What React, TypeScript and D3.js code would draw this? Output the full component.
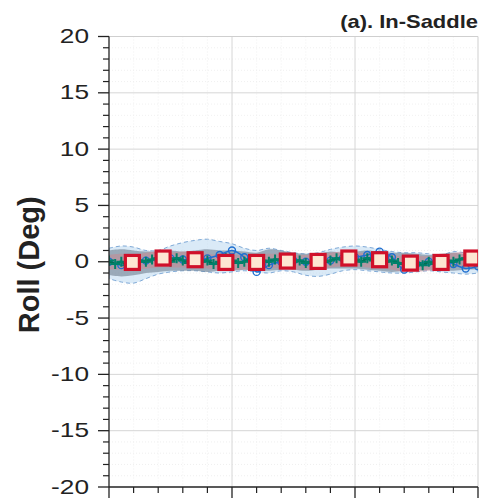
import React from "react";
import * as d3 from "d3";

const W = 484, H = 502;
const M = { left: 109, right: 478, top: 36.5, bottom: 487 };

const yTicks = [-20, -15, -10, -5, 0, 5, 10, 15, 20];
const xMajor = [0, 50, 100, 150];

// band sample positions (x every 5)
const bandX = [0,5,10,15,20,25,30,35,40,45,50,55,60,65,70,75,80,85,90,95,100,105,110,115,120,125,130,135,140,145,150];
const grayUp = [1.0,1.1,1.0,0.9,0.9,1.0,0.9,1.0,1.1,1.0,1.0,0.9,0.8,1.1,1.0,0.8,0.7,0.7,0.9,0.8,0.9,1.0,0.9,0.8,0.8,0.7,0.6,0.7,0.8,0.7,0.8];
const grayLo = [-1.2,-1.3,-1.2,-1.0,-0.9,-0.8,-0.8,-0.8,-0.9,-0.8,-0.8,-0.7,-0.8,-0.8,-0.7,-0.7,-0.8,-0.7,-0.6,-0.6,-0.6,-0.7,-0.8,-0.9,-0.8,-0.8,-0.7,-0.8,-0.8,-0.7,-0.7];
const blueUp = [1.2,1.4,1.3,1.0,1.0,1.4,1.7,1.9,2.0,1.8,1.6,1.2,1.0,1.2,1.0,0.8,0.7,0.8,1.1,1.3,1.4,1.3,1.1,0.9,0.8,0.8,0.7,0.6,0.9,0.8,0.9];
const blueLo = [-1.5,-1.8,-1.9,-1.5,-1.1,-0.9,-0.8,-0.8,-0.9,-1.0,-0.9,-0.8,-0.9,-1.0,-0.8,-0.9,-1.2,-1.3,-1.1,-0.8,-0.7,-0.8,-0.9,-1.0,-1.0,-0.9,-0.8,-0.9,-1.0,-1.1,-1.0];
const redUp = [0.6,0.7,0.6,0.8,0.9,0.8,0.9,0.8,0.7,0.6,0.6,0.6,0.6,0.7,0.7,0.6,0.6,0.7,0.8,0.9,0.8,0.8,0.7,0.6,0.5,0.5,0.5,0.6,0.8,0.9,0.9];
const redLo = [-0.7,-0.7,-0.8,-0.6,-0.5,-0.5,-0.5,-0.5,-0.6,-0.7,-0.7,-0.7,-0.7,-0.6,-0.6,-0.7,-0.7,-0.6,-0.5,-0.4,-0.4,-0.5,-0.6,-0.7,-0.9,-0.9,-0.8,-0.7,-0.5,-0.4,-0.4];

// teal mean line (x every 2.5)
const tealX = [0,2.5,5,7.5,10,12.5,15,17.5,20,22.5,25,27.5,30,32.5,35,37.5,40,42.5,45,47.5,50,52.5,55,57.5,60,62.5,65,67.5,70,72.5,75,77.5,80,82.5,85,87.5,90,92.5,95,97.5,100,102.5,105,107.5,110,112.5,115,117.5,120,122.5,125,127.5,130,132.5,135,137.5,140,142.5,145,147.5,150];
const tealY = [0.1,-0.2,0.0,-0.3,-0.1,0.1,0.0,0.2,0.3,0.2,0.0,0.3,0.1,-0.1,0.2,0.0,0.1,-0.2,0.0,0.3,0.1,-0.1,0.0,0.2,-0.1,0.1,0.0,0.2,0.1,-0.2,0.0,0.1,-0.1,0.0,0.2,0.0,0.1,0.3,0.2,0.4,0.2,0.0,0.3,0.1,0.2,0.0,0.1,-0.1,-0.2,-0.3,-0.1,-0.3,0.0,-0.2,-0.1,0.1,0.0,0.2,0.3,0.1,0.2];

// blue line with circles (x every 5)
const blueY = [0.0,-0.3,-0.2,0.1,0.2,0.3,0.2,0.1,0.3,0.6,1.0,0.4,-0.9,-0.3,0.0,0.1,0.0,-0.2,0.1,0.3,0.4,0.6,0.9,0.4,-0.7,-0.2,0.0,0.1,-0.2,-0.6,-0.4];

// red square markers
const markX = [9.5,22,35,47.5,60,72.5,85,97.5,110,122.5,135,147.5];
const markY = [-0.06,0.33,0.18,-0.06,-0.06,0.06,0.03,0.33,0.18,-0.12,-0.06,0.33];

const FONT = "'Liberation Sans', Arial, sans-serif";

export default function App() {
  const x = d3.scaleLinear().domain([0, 150]).range([M.left, M.right]);
  const y = d3.scaleLinear().domain([-20, 20]).range([M.bottom, M.top]);

  const area = (up: number[], lo: number[]) =>
    d3.area<number>()
      .x((_, i) => x(bandX[i]))
      .y0((_, i) => y(lo[i]))
      .y1((_, i) => y(up[i]))
      .curve(d3.curveCatmullRom)(up) as string;
  const lineOf = (xs: number[], ys: number[], curve = d3.curveCatmullRom) =>
    d3.line<number>().x((_, i) => x(xs[i])).y((d) => y(d)).curve(curve)(ys) as string;

  const yMinor = d3.range(-20, 20.01, 1).filter((v) => v % 5 !== 0);
  const xMinor = d3.range(0, 150.01, 10).filter((v) => v % 50 !== 0);

  const blueX = bandX;

  return (
    <svg width={W} height={H} style={{ position: "absolute", left: 0, top: 0, background: "#fff" }}>
      <defs>
        <clipPath id="plot">
          <rect x={M.left} y={M.top} width={M.right - M.left} height={M.bottom - M.top} />
        </clipPath>
      </defs>
      {/* minor grid */}
      <g stroke="#ececec" strokeWidth={0.8} strokeDasharray="1,2">
        {yMinor.map((v) => (
          <line key={"ym" + v} x1={M.left} x2={M.right} y1={y(v)} y2={y(v)} />
        ))}
        {xMinor.map((v) => (
          <line key={"xm" + v} x1={x(v)} x2={x(v)} y1={M.top} y2={M.bottom} />
        ))}
      </g>
      {/* major grid */}
      <g stroke="#d6d6d6" strokeWidth={1}>
        {yTicks.slice(1, -1).map((v) => (
          <line key={"yg" + v} x1={M.left} x2={M.right} y1={y(v)} y2={y(v)} />
        ))}
        {xMajor.slice(1, -1).map((v) => (
          <line key={"xg" + v} x1={x(v)} x2={x(v)} y1={M.top} y2={M.bottom} />
        ))}
      </g>
      {/* frame top/right */}
      <line x1={M.left} x2={M.right} y1={M.top} y2={M.top} stroke="#cfcfcf" />
      <line x1={M.right} x2={M.right} y1={M.top} y2={M.bottom} stroke="#cfcfcf" />

      <g clipPath="url(#plot)">
        <path d={area(blueUp, blueLo)} fill="#bcd8f0" fillOpacity={0.55} stroke="#7fa9d6" strokeWidth={1} strokeDasharray="4,3" />
        <path d={area(grayUp, grayLo)} fill="#6f7f90" fillOpacity={0.6} stroke="none" />
        <path d={area(redUp, redLo)} fill="#f07070" fillOpacity={0.3} stroke="none" />
        <path d={lineOf(blueX, blueY)} fill="none" stroke="#1f6fd0" strokeWidth={1.6} />
        {blueY.map((v, i) => (
          <circle key={"bc" + i} cx={x(blueX[i])} cy={y(v)} r={3.5} fill="none" stroke="#1f6fd0" strokeWidth={1.4} />
        ))}
        <path d={lineOf(tealX, tealY)} fill="none" stroke="#006e52" strokeWidth={2.6} />
        {tealY.map((v, i) => {
          const cx = x(tealX[i]), cy = y(v);
          return (
            <g key={"tp" + i} stroke="#00806a" strokeWidth={2}>
              <line x1={cx - 5} x2={cx + 5} y1={cy} y2={cy} />
              <line x1={cx} x2={cx} y1={cy - 5} y2={cy + 5} />
            </g>
          );
        })}
        {markY.map((v, i) => (
          <rect key={"mk" + i} x={x(markX[i]) - 7} y={y(v) - 7} width={14} height={14}
            fill="#fde6d2" stroke="#d0102a" strokeWidth={3.2} />
        ))}
      </g>

      {/* y axis */}
      <line x1={M.left} x2={M.left} y1={M.top} y2={M.bottom} stroke="#222" strokeWidth={1.3} />
      {yMinor.map((v) => (
        <line key={"yt" + v} x1={M.left - 6} x2={M.left} y1={y(v)} y2={y(v)} stroke="#222" strokeWidth={1.2} />
      ))}
      {yTicks.map((v) => (
        <g key={"yl" + v}>
          <line x1={M.left - 11} x2={M.left} y1={y(v)} y2={y(v)} stroke="#222" strokeWidth={1.3} />
          <text x={89} y={y(v) - 1} dy="0.36em" textAnchor="end" fontFamily={FONT} fontSize={21}
            fill="#222" transform={`translate(89,0) scale(1.25,1) translate(-89,0)`}>
            {v}
          </text>
        </g>
      ))}
      {/* x axis */}
      <line x1={M.left} x2={M.right} y1={M.bottom} y2={M.bottom} stroke="#222" strokeWidth={1.3} />
      {xMinor.map((v) => (
        <line key={"xt" + v} x1={x(v)} x2={x(v)} y1={M.bottom} y2={M.bottom + 6} stroke="#222" strokeWidth={1.2} />
      ))}
      {xMajor.map((v) => (
        <line key={"xT" + v} x1={x(v)} x2={x(v)} y1={M.bottom} y2={M.bottom + 11} stroke="#222" strokeWidth={1.3} />
      ))}

      <text transform={`translate(39,${y(0) + 3}) rotate(-90)`} textAnchor="middle" fontFamily={FONT}
        fontWeight="bold" fontSize={29} fill="#222">
        Roll (Deg)
      </text>
      <text x={478} y={28} textAnchor="end" fontFamily={FONT} fontWeight="bold" fontSize={18} fill="#222"
        transform="translate(478,0) scale(1.22,1) translate(-478,0)">
        (a). In-Saddle
      </text>
    </svg>
  );
}
